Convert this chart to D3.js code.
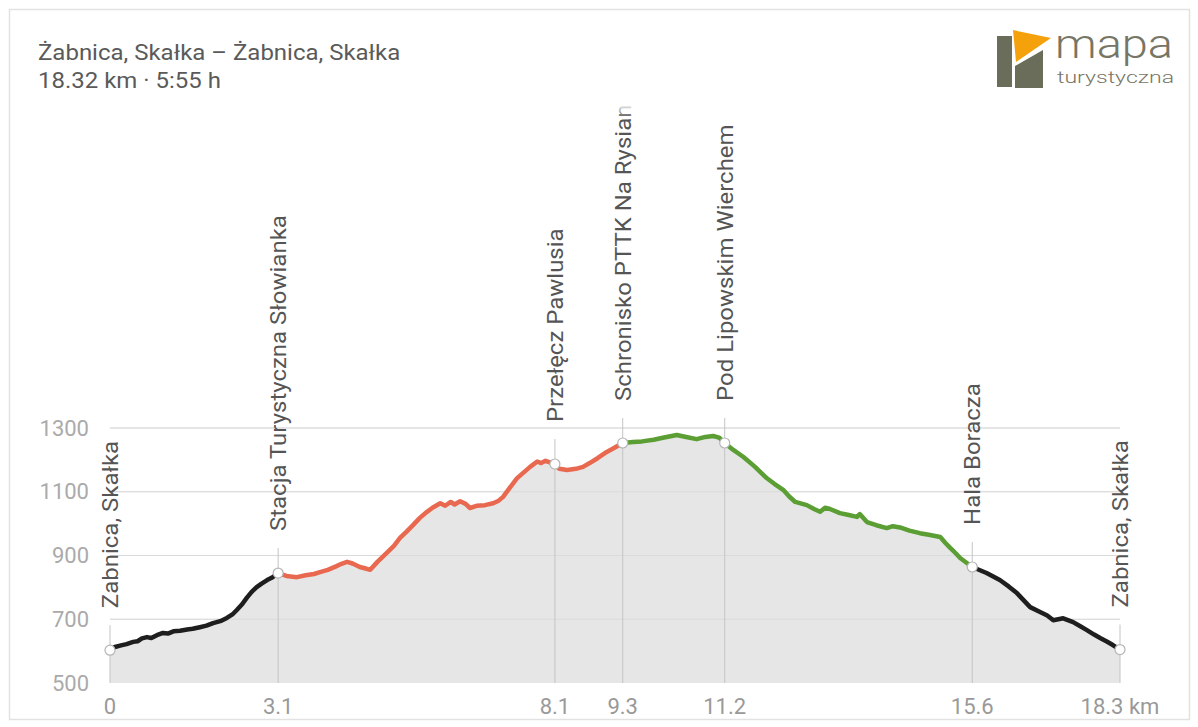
<!DOCTYPE html>
<html>
<head>
<meta charset="utf-8">
<script src="https://cdn.jsdelivr.net/npm/d3@7/dist/d3.min.js"></script>
<style>
  html, body { margin: 0; padding: 0; background: #fff; }
  svg { display: block; font-family: Roboto, "Noto Sans", sans-serif; }
</style>
</head>
<body>
<svg id="chart" width="1198" height="727"></svg>
<script>
// ---- data ----
const titleLines = ["Żabnica, Skałka – Żabnica, Skałka", "18.32 km · 5:55 h"];

const profileKm = [
  0, 0.09, 0.2, 0.3, 0.42, 0.5, 0.58, 0.67, 0.75, 0.85, 0.96, 1.05, 1.15, 1.27, 1.4, 1.5, 1.63, 1.75, 1.87, 2.0,
  2.12, 2.22, 2.3, 2.4, 2.48, 2.57, 2.66, 2.75, 2.85, 2.95, 3.05,
  3.2, 3.39, 3.55, 3.7, 3.81, 3.95, 4.1, 4.2, 4.3, 4.4, 4.53, 4.62, 4.72, 4.85, 5.02, 5.15, 5.26, 5.38, 5.5,
  5.62, 5.75, 5.85, 5.99, 6.08, 6.18, 6.25, 6.35, 6.45, 6.53, 6.65, 6.8, 6.95, 7.05, 7.13, 7.25, 7.38, 7.5,
  7.62, 7.75, 7.82, 7.9, 8.07, 8.15, 8.29, 8.45, 8.58, 8.7, 8.85, 9.01, 9.15, 9.3,
  9.49, 9.65, 9.86, 10.05, 10.28, 10.45, 10.64, 10.8, 10.94, 11.05, 11.15, 11.3, 11.49, 11.7, 11.91, 12.05,
  12.21, 12.32, 12.43, 12.64, 12.78, 12.88, 12.97, 13.06, 13.24, 13.4, 13.55, 13.6, 13.73, 13.9, 14.09, 14.2,
  14.33, 14.5, 14.69, 14.85, 15.06, 15.15, 15.24, 15.34, 15.42, 15.53, 15.64,
  15.9, 16.14, 16.3, 16.45, 16.57, 16.69, 16.87, 17.0, 17.11, 17.2, 17.29, 17.47, 17.6, 17.72, 17.85, 17.96,
  18.08, 18.19, 18.32
];
const profileElev = [
  603, 613, 618, 622, 629, 631, 640, 644, 641, 650, 657, 655, 662, 664, 668, 670, 675, 680, 688, 694,
  704, 715, 729, 748, 767, 786, 801, 812, 823, 832, 845,
  836, 832, 838, 842, 848, 855, 866, 874, 880, 875, 864, 860, 855, 880, 908, 930, 955, 975, 996,
  1018, 1037, 1050, 1064, 1056, 1068, 1060, 1070, 1062, 1049, 1056, 1058, 1064, 1072, 1084, 1112, 1142, 1160,
  1178, 1195, 1190, 1197, 1187, 1172, 1168, 1172, 1178, 1190, 1206, 1225, 1238, 1253,
  1256, 1258, 1263, 1270, 1278, 1272, 1265, 1272, 1275, 1270, 1253, 1232, 1209, 1178, 1143, 1125,
  1106, 1085, 1068, 1058, 1045, 1037, 1050, 1046, 1033, 1027, 1021, 1030, 1005, 995, 986, 992,
  988, 978, 970, 965, 958, 940, 924, 907, 892, 878, 864,
  845, 823, 803, 782, 760, 738, 723, 712, 697, 700, 703, 691, 678, 666, 652, 641,
  630, 619, 605
];

const waypointKm = [0, 3.05, 8.07, 9.3, 11.15, 15.64, 18.32];
const waypointNames = ["Zabnica, Skałka", "Stacja Turystyczna Słowianka", "Przełęcz Pawlusia",
  "Schronisko PTTK Na Rysiance", "Pod Lipowskim Wierchem", "Hala Boracza", "Zabnica, Skałka"];
const waypointTickLabels = ["0", "3.1", "8.1", "9.3", "11.2", "15.6", "18.3 km"];
// colour of the stretch that starts at each waypoint
const segmentColors = ["#1e1e1e", "#e8694f", "#e8694f", "#5b9e34", "#5b9e34", "#1e1e1e"];

const yTicks = [500, 700, 900, 1100, 1300];

// ---- drawing ----
const svg = d3.select("#chart");
const x = d3.scaleLinear().domain([0, 18.32]).range([110, 1120]);
const y = d3.scaleLinear().domain([500, 1300]).range([683, 428]);
const STRETCH = 1.09;
function stretch(sel) {
  sel.each(function () {
    const len = this.getComputedTextLength();
    d3.select(this).attr("textLength", len * STRETCH).attr("lengthAdjust", "spacingAndGlyphs");
  });
}

const data = profileKm.map((k, i) => ({ km: k, ele: profileElev[i] }));

// frame
svg.append("rect").attr("x", 9.5).attr("y", 9.5).attr("width", 1180).attr("height", 710)
  .attr("fill", "#fff").attr("stroke", "#e2e2e2").attr("stroke-width", 1.5);

// title
svg.selectAll("text.title").data(titleLines).join("text")
  .attr("class", "title")
  .attr("x", 38).attr("y", (d, i) => 60 + i * 28)
  .attr("fill", "#5a5a5a").attr("font-size", 22)
  .text(d => d)
  .call(stretch);

// logo
const logo = svg.append("g");
logo.append("rect").attr("x", 997).attr("y", 36).attr("width", 15).attr("height", 51).attr("fill", "#6b6d5b");
logo.append("polygon").attr("points", "1015,66 1043,50 1043,88 1015,88").attr("fill", "#6b6d5b");
logo.append("polygon").attr("points", "1013,30 1051,38 1016,62").attr("fill", "#f5a10c");
logo.append("text").attr("x", 1055).attr("y", 58).attr("font-size", 40).attr("font-weight", 300)
  .attr("fill", "#777564").attr("textLength", 118).attr("lengthAdjust", "spacingAndGlyphs").text("mapa");
logo.append("text").attr("x", 1057).attr("y", 83).attr("font-size", 16).attr("font-weight", 300)
  .attr("fill", "#777564").attr("textLength", 117).attr("lengthAdjust", "spacingAndGlyphs").text("turystyczna");

// gridlines
svg.append("g").selectAll("line").data(yTicks.filter(t => t > 500)).join("line")
  .attr("x1", x(0)).attr("x2", x(18.32))
  .attr("y1", d => y(d)).attr("y2", d => y(d))
  .attr("stroke", "#e4e4e4").attr("stroke-width", 1);

// y axis labels
const yAxis = d3.axisLeft(y).tickValues(yTicks).tickFormat(d3.format("d")).tickSize(0).tickPadding(0);
const gy = svg.append("g").attr("transform", "translate(89,0)").call(yAxis);
gy.select(".domain").remove();
gy.selectAll("text").attr("font-size", 22).attr("fill", "#aaa").attr("font-family", "Roboto, sans-serif");

// area
const area = d3.area().x(d => x(d.km)).y0(y(500)).y1(d => y(d.ele));
svg.append("path").datum(data).attr("d", area).attr("fill", "#e6e6e6");

// gridlines visible over fill
svg.append("g").selectAll("line").data(yTicks.filter(t => t > 500)).join("line")
  .attr("x1", x(0)).attr("x2", x(18.32))
  .attr("y1", d => y(d)).attr("y2", d => y(d))
  .attr("stroke", "#dadada").attr("stroke-width", 1);

// vertical waypoint lines
const wpEle = waypointKm.map(k => {
  const i = profileKm.findIndex(v => Math.abs(v - k) < 1e-9);
  return profileElev[i];
});
svg.append("g").selectAll("line").data(waypointKm).join("line")
  .attr("x1", d => x(d)).attr("x2", d => x(d))
  .attr("y1", (d, i) => y(wpEle[i]) - 25).attr("y2", y(500))
  .attr("stroke", "#c4c4c4").attr("stroke-width", 1);

// profile line segments
const line = d3.line().x(d => x(d.km)).y(d => y(d.ele));
segmentColors.forEach((c, s) => {
  const seg = data.filter(d => d.km >= waypointKm[s] - 1e-9 && d.km <= waypointKm[s + 1] + 1e-9);
  svg.append("path").datum(seg).attr("d", line).attr("fill", "none")
    .attr("stroke", c).attr("stroke-width", 4.5).attr("stroke-linejoin", "round").attr("stroke-linecap", "round");
});

// waypoint circles
svg.append("g").selectAll("circle").data(waypointKm).join("circle")
  .attr("cx", d => x(d)).attr("cy", (d, i) => y(wpEle[i])).attr("r", 5)
  .attr("fill", "#fff").attr("stroke", "#b5b5b5").attr("stroke-width", 1.2);

// waypoint labels (clipped at top)
const defs = svg.append("defs");
defs.append("clipPath").attr("id", "labclip").append("rect")
  .attr("x", 0).attr("y", 106).attr("width", 1198).attr("height", 600);
const grad = defs.append("linearGradient").attr("id", "fade").attr("x1", 0).attr("y1", 0).attr("x2", 0).attr("y2", 1);
grad.append("stop").attr("offset", "0%").attr("stop-color", "#fff").attr("stop-opacity", 1);
grad.append("stop").attr("offset", "100%").attr("stop-color", "#fff").attr("stop-opacity", 0);

const labG = svg.append("g").attr("clip-path", "url(#labclip)");
labG.selectAll("text").data(waypointNames).join("text")
  .attr("transform", (d, i) => `translate(${x(waypointKm[i])},${y(wpEle[i]) - 42}) rotate(-90)`)
  .attr("dy", "0.36em")
  .attr("text-anchor", "start")
  .attr("fill", "#555").attr("font-size", 22)
  .text(d => d)
  .call(stretch);
svg.append("rect").attr("x", 600).attr("y", 104).attr("width", 50).attr("height", 14).attr("fill", "url(#fade)");

// x tick labels
svg.append("g").selectAll("text").data(waypointKm).join("text")
  .attr("x", d => x(d)).attr("y", 714)
  .attr("text-anchor", "middle")
  .attr("fill", "#999").attr("font-size", 22)
  .text((d, i) => waypointTickLabels[i]);
</script>
</body>
</html>
